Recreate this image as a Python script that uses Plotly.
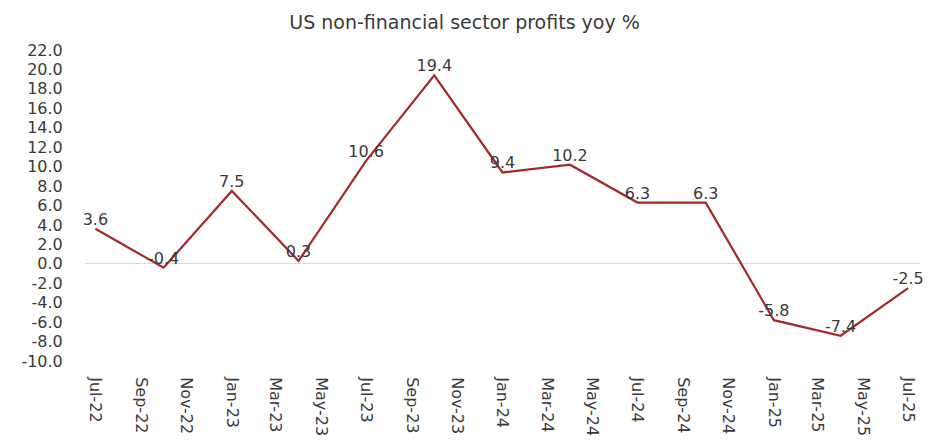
import plotly.graph_objects as go

# Quarterly year-on-year change in US non-financial corporate profits (%)
quarters = ["2022-07-01", "2022-10-01", "2023-01-01", "2023-04-01", "2023-07-01",
            "2023-10-01", "2024-01-01", "2024-04-01", "2024-07-01", "2024-10-01",
            "2025-01-01", "2025-04-01", "2025-07-01"]
profits_yoy = [3.6, -0.4, 7.5, 0.3, 10.6, 19.4, 9.4, 10.2, 6.3, 6.3, -5.8, -7.4, -2.5]

y_ticks = [v for v in range(-10, 23, 2)]

TEXT = "#3A3A3A"
FONT = "DejaVu Sans"

fig = go.Figure()
fig.add_trace(go.Scatter(
    x=quarters,
    y=profits_yoy,
    mode="lines+text",
    line=dict(color="#A32A2A", width=2.2),
    text=[f"{v:.1f}" for v in profits_yoy],
    textposition="top center",
    textfont=dict(family=FONT, size=16, color=TEXT),
    cliponaxis=False,
    hoverinfo="x+y",
))

fig.update_layout(
    width=929,
    height=445,
    margin=dict(l=85, r=9, t=50, b=69),
    paper_bgcolor="white",
    plot_bgcolor="white",
    showlegend=False,
    title=dict(
        text="US non-financial sector profits yoy %",
        font=dict(family=FONT, size=19, color=TEXT),
        xref="container", x=0.5, xanchor="center",
        yref="container", y=0.95, yanchor="middle",
    ),
)

fig.update_xaxes(
    type="date",
    range=["2022-06-17", "2025-07-17"],
    tick0="2022-07-01",
    dtick="M2",
    tickformat="%b-%y",
    tickangle=90,
    ticks="outside",
    ticklen=12,
    tickcolor="rgba(0,0,0,0)",
    tickfont=dict(family=FONT, size=16, color=TEXT),
    showgrid=False,
    showline=False,
    zeroline=False,
)

fig.update_yaxes(
    range=[-10, 22],
    tickvals=y_ticks,
    ticktext=[f"{v:.1f}" for v in y_ticks],
    tickfont=dict(family=FONT, size=16, color=TEXT),
    showgrid=False,
    showline=False,
    zeroline=True,
    zerolinecolor="#D9D9D9",
    zerolinewidth=1,
    ticks="outside",
    ticklen=18,
    tickcolor="rgba(0,0,0,0)",
)

fig.write_html("out.html")
